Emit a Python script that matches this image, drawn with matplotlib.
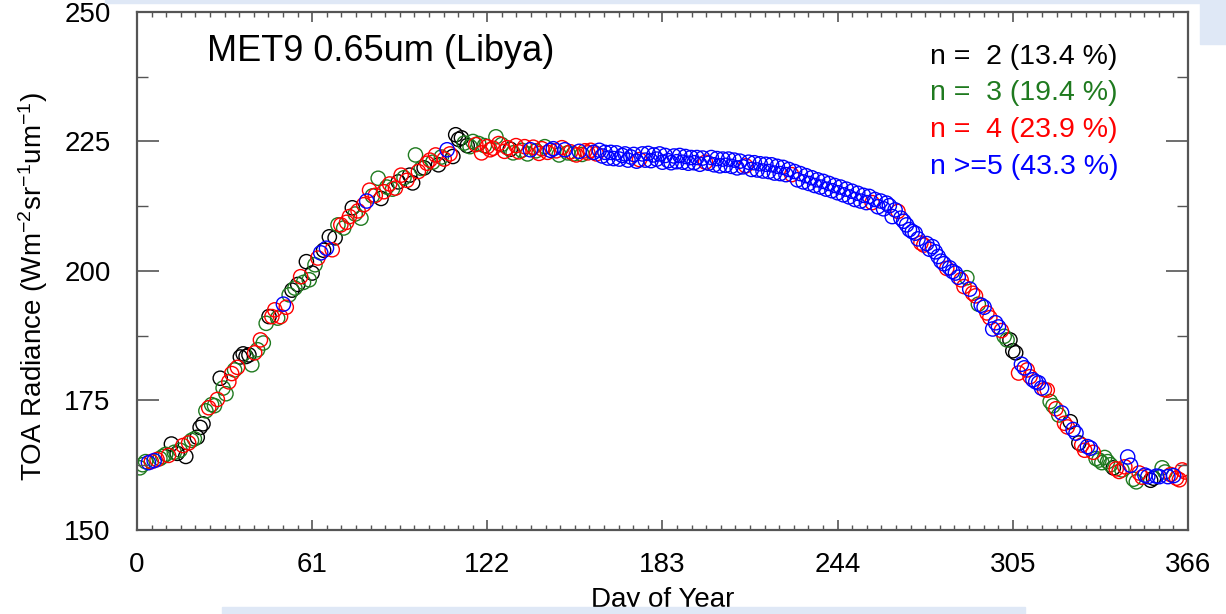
import matplotlib as mpl
mpl.use('Agg')
import matplotlib.pyplot as plt
from matplotlib.patches import Rectangle
from matplotlib.ticker import MultipleLocator, FixedLocator

# n = 2 (black)
black_days = [12, 14, 17, 21, 22, 23, 29, 36, 37, 38, 39, 46, 54, 56, 59, 61, 65, 67, 69, 75,
              85, 91, 95, 96, 100, 105, 110, 111, 112, 113, 115, 130, 304, 305, 306, 325, 328,
              340, 353, 354]
black_vals = [166.6, 164.8, 164.2, 167.9, 169.8, 170.5, 179.3, 183.4, 184.0, 183.5, 183.8, 191.2,
              196.3, 197.4, 201.8, 199.6, 204.0, 206.6, 206.4, 212.2, 214.0, 217.2, 218.5, 217.0,
              219.9, 220.5, 222.1, 226.3, 225.4, 225.7, 224.2, 223.5, 186.7, 184.6, 184.2, 170.9,
              166.8, 162.0, 159.6, 160.0]

# n = 3 (green)
green_days = [1, 2, 3, 8, 9, 10, 13, 15, 19, 20, 24, 26, 27, 30, 31, 34, 40, 42, 44, 45, 49, 53,
              55, 58, 60, 62, 70, 72, 76, 78, 82, 84, 87, 89, 93, 97, 99, 103, 106, 114, 116, 117,
              119, 121, 125, 127, 131, 134, 136, 139, 142, 147, 150, 152, 155,
              289, 293, 302, 303, 318, 319, 321, 334, 335, 336, 337, 338, 339, 343, 347, 348,
              357, 358]
green_vals = [162.0, 162.6, 163.2, 163.8, 164.2, 164.6, 165.0, 165.4, 167.3, 167.6, 173.0, 174.2,
              174.0, 177.4, 176.3, 180.9, 181.9, 184.8, 186.1, 189.9, 190.9, 195.4, 196.7, 197.8,
              198.3, 201.2, 208.9, 208.3, 211.0, 210.2, 214.5, 217.9, 216.2, 215.8, 218.0, 222.4,
              219.8, 221.0, 222.0, 224.7, 224.0, 225.0, 224.6, 224.2, 225.9, 224.4, 222.8, 223.3,
              222.6, 223.2, 224.0, 222.4, 222.8, 222.6, 222.5,
              198.7, 193.6, 187.4, 186.7, 174.8, 174.0, 172.2, 163.8, 163.5, 163.0, 164.0, 163.2,
              162.6, 161.6, 159.8, 159.3, 162.0, 161.2]

# n = 4 (red)
red_days = [5, 7, 11, 16, 18, 25, 28, 32, 33, 35, 41, 43, 47, 48, 50, 52, 57, 63, 68, 71, 73, 74,
            77, 79, 81, 83, 86, 88, 90, 92, 94, 98, 101, 102, 104, 107, 109, 118, 120, 122, 123,
            124, 126, 128, 129, 132, 133, 135, 138, 140, 141, 143, 146, 148, 151, 153, 156, 157,
            158, 160, 175, 198, 212, 228, 256,
            265, 273, 274, 282, 287, 288, 291, 292, 296, 297, 301, 307, 310, 311, 316, 317, 320,
            323, 324, 329, 330, 333, 341, 342, 344, 349, 350, 360, 362, 363, 364, 365]
red_vals = [163.2, 163.6, 164.4, 166.3, 166.8, 173.6, 175.2, 178.6, 180.2, 181.4, 184.2, 186.7,
            191.2, 192.5, 191.2, 193.0, 198.9, 202.5, 204.1, 208.9, 209.4, 210.5, 211.6, 212.8,
            215.6, 214.6, 215.3, 216.8, 216.0, 218.5, 217.5, 219.2, 220.8, 221.4, 222.4, 221.6,
            222.6, 224.4, 222.8, 224.0, 223.4, 223.7, 224.6, 223.1, 223.8, 224.2, 223.0, 224.0,
            223.9, 222.7, 223.6, 222.9, 223.2, 223.8, 223.0, 222.4, 223.2, 222.8, 223.3, 222.6,
            221.5, 221.0, 220.3, 218.6, 213.2,
            211.5, 205.4, 205.0, 200.5, 198.3, 197.0, 195.7, 195.2, 191.9, 191.0, 188.5, 180.3,
            180.9, 179.6, 177.1, 177.0, 173.4, 170.6, 169.9, 166.4, 165.4, 165.0, 161.8, 161.3,
            162.2, 161.0, 160.2, 160.7, 160.0, 159.7, 161.6, 161.2]

# n >= 5 (blue)
blue_days = [4, 6, 51, 64, 66, 80, 108, 137, 144, 145, 149, 154, 159,
             161, 162, 163, 164, 165, 166, 167, 168, 169, 170, 171, 172, 173, 174, 176, 177, 178,
             179, 180, 181, 182, 183, 184, 185, 186, 187, 188, 189, 190, 191, 192, 193, 194, 195,
             196, 197, 199, 200, 201, 202, 203, 204, 205, 206, 207, 208, 209, 210, 211, 213, 214,
             215, 216, 217, 218, 219, 220, 221, 222, 223, 224, 225, 226, 227, 229, 230, 231, 232,
             233, 234, 235, 236, 237, 238, 239, 240, 241, 242, 243, 244, 245, 246, 247, 248, 249,
             250, 251, 252, 253, 254, 255, 257, 258, 259, 260, 261,
             262, 263, 264, 266, 267, 268, 269, 270, 271, 272, 275, 276, 277, 278, 279, 280, 281,
             283, 284, 285, 286, 290, 294, 295, 298, 299, 300, 308, 309, 312, 313, 314, 315, 322,
             326, 327, 331, 332, 345, 346, 351, 352, 355, 356, 359, 361]
blue_vals = [163.0, 163.4, 193.6, 203.5, 204.4, 213.5, 223.4, 223.4, 223.3, 223.6, 223.4, 223.1, 222.9,
             223.3, 222.2, 222.9, 221.8, 222.9, 221.7, 222.8, 221.6, 222.3, 222.6, 221.4, 222.0, 222.5,
             221.2, 222.6, 221.4, 222.7, 221.3, 222.4, 221.6, 222.6, 221.0, 222.3, 221.3, 220.9, 222.2,
             221.1, 222.3, 221.0, 222.1, 220.8, 221.9, 220.9, 221.9, 220.6, 221.8, 220.8, 221.9, 220.5,
             221.7, 220.3, 221.6, 220.4, 221.6, 220.2, 221.4, 219.9, 221.2, 220.1, 221.0, 219.6, 220.9,
             219.5, 220.7, 219.3, 220.6, 219.2, 220.5, 218.9, 220.2, 218.8, 220.0, 218.6, 219.6, 219.2,
             217.6, 218.8, 217.2, 218.4, 216.9, 218.0, 216.5, 217.6, 216.2, 217.3, 215.8, 216.9, 215.5,
             216.5, 215.1, 216.2, 214.7, 215.8, 214.3, 215.4, 213.8, 215.0, 213.5, 214.6, 213.2, 214.4,
             213.8, 212.4, 213.5, 212.0, 213.1,
             212.6, 210.5, 211.8, 210.2, 209.6, 208.9, 208.0, 207.6, 207.3, 206.2, 205.3, 204.2, 204.7,
             203.7, 202.8, 201.9, 201.4, 200.6, 199.9, 199.6, 198.8, 196.5, 193.4, 193.0, 188.8, 190.0,
             189.2, 182.0, 181.3, 179.0, 178.6, 178.4, 177.4, 172.6, 169.4, 168.7, 166.1, 165.8, 164.1,
             162.5, 160.6, 160.3, 160.4, 160.3, 160.3, 160.5]

legend_labels = ['n =  2 (13.4 %)', 'n =  3 (19.4 %)', 'n =  4 (23.9 %)', 'n >=5 (43.3 %)']
colors = ['black', '#1f7a1f', '#ff0000', '#0000ff']
x_ticks = [0, 61, 122, 183, 244, 305, 366]

plt.rcParams['font.family'] = ['Liberation Sans', 'DejaVu Sans']
plt.rcParams['mathtext.fontset'] = 'custom'
plt.rcParams['mathtext.rm'] = 'Liberation Sans'
plt.rcParams['mathtext.it'] = 'Liberation Sans'

fig = plt.figure(figsize=(12.26, 6.14), dpi=100)
ax = fig.add_axes([0.1117, 0.1368, 0.8573, 0.8437])

series = [(black_days, black_vals), (green_days, green_vals),
          (red_days, red_vals), (blue_days, blue_vals)]
for (d, v), c in zip(series, colors):
    ax.scatter(d, v, s=105, facecolors='none', edgecolors=c, linewidths=1.0)

ax.set_xlim(0, 366)
ax.set_ylim(150, 250)
ax.xaxis.set_major_locator(FixedLocator(x_ticks))
ax.xaxis.set_minor_locator(MultipleLocator(61 / 12))
ax.yaxis.set_major_locator(MultipleLocator(25))
ax.yaxis.set_minor_locator(MultipleLocator(12.5))

axis_col = '#555555'
for s in ax.spines.values():
    s.set_color(axis_col)
    s.set_linewidth(1.6)
ax.tick_params(axis='x', which='major', direction='in', length=7, width=1.2,
               color=axis_col, top=True, labelsize=20, pad=16)
ax.tick_params(axis='x', which='minor', direction='in', length=3.5, width=1.0,
               color=axis_col, top=True)
ax.tick_params(axis='y', which='major', direction='in', length=16, width=1.2,
               color=axis_col, right=True, labelsize=20, pad=19)
ax.tick_params(axis='y', which='minor', direction='in', length=8, width=1.0,
               color=axis_col, right=True)

ax.set_xlabel('Day of Year', fontsize=20, labelpad=6)
ax.set_ylabel(r'TOA Radiance (Wm$^{-2}$sr$^{-1}$um$^{-1}$)', fontsize=20, labelpad=8)
ax.yaxis.set_label_coords(-0.083, 0.47)

ax.text(0.0666, 0.923, 'MET9 0.65um (Libya)', transform=ax.transAxes,
        fontsize=26, va='center', ha='left')
for i, (lab, c) in enumerate(zip(legend_labels, colors)):
    ax.text(0.7545, 0.9137 - i * 0.0708, lab, transform=ax.transAxes,
            fontsize=20.5, color=c, va='center', ha='left')

# light-blue screenshot edges
band = '#dfe8f6'
fig.patches.append(Rectangle((222 / 1226, 0), 803 / 1226, 7 / 614,
                             transform=fig.transFigure, color=band, zorder=10))
fig.patches.append(Rectangle((105 / 1226, 611 / 614), 1121 / 1226, 3 / 614,
                             transform=fig.transFigure, color=band, zorder=10))
fig.patches.append(Rectangle((1200 / 1226, 570 / 614), 26 / 1226, 44 / 614,
                             transform=fig.transFigure, color=band, zorder=10))

fig.savefig('out.png', dpi=100)
